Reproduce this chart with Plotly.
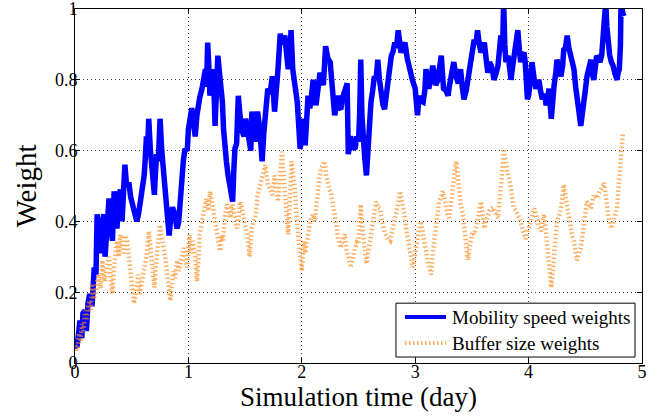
import plotly.graph_objects as go

# ---- data ----
speed_x = [0.00,0.018,0.03,0.044,0.06,0.07,0.088,0.10,0.115,0.13,0.15,0.17,0.185,0.195,0.21,0.22,0.24,0.255,0.265,0.28,
 0.30,0.315,0.33,0.345,0.36,0.37,0.385,0.40,0.415,0.43,0.44,0.455,0.475,0.49,0.50,0.52,0.545,0.56,0.57,0.59,
 0.61,0.62,0.63,0.64,0.65,0.665,0.68,0.70,0.71,0.72,0.735,0.75,0.765,0.78,0.80,0.815,0.83,0.845,0.86,0.88,
 0.90,0.915,0.93,0.94,0.955,0.97,0.99,1.00,1.015,1.03,1.045,1.06,1.075,1.085,1.10,1.12,1.135,1.15,1.16,1.17,
 1.18,1.19,1.205,1.22,1.235,1.25,1.26,1.28,1.30,1.31,1.32,1.335,1.35,1.37,1.39,1.40,1.41,1.425,1.44,1.455,
 1.47,1.49,1.505,1.52,1.54,1.55,1.56,1.575,1.59,1.60,1.61,1.63,1.65,1.665,1.68,1.70,1.72,1.74,1.76,1.775,
 1.79,1.81,1.83,1.85,1.865,1.88,1.895,1.905,1.92,1.94,1.96,1.975,1.985,2.00,2.01,2.03,2.045,2.055,2.07,2.08,
 2.10,2.115,2.125,2.145,2.16,2.175,2.19,2.21,2.23,2.25,2.265,2.275,2.29,2.305,2.32,2.335,2.345,2.36,2.38,2.40,
 2.41,2.42,2.43,2.45,2.47,2.485,2.50,2.51,2.52,2.53,2.54,2.555,2.57,2.585,2.60,2.61,2.625,2.64,2.655,2.67,
 2.685,2.70,2.715,2.73,2.75,2.77,2.79,2.805,2.82,2.835,2.85,2.865,2.875,2.89,2.91,2.93,2.95,2.975,3.00,3.02,
 3.035,3.05,3.07,3.085,3.095,3.11,3.12,3.135,3.155,3.17,3.18,3.20,3.23,3.24,3.25,3.27,3.29,3.30,3.315,3.33,
 3.34,3.36,3.38,3.39,3.40,3.415,3.43,3.45,3.465,3.48,3.49,3.505,3.52,3.535,3.55,3.565,3.58,3.595,3.61,3.625,
 3.64,3.655,3.67,3.685,3.695,3.715,3.73,3.745,3.755,3.77,3.78,3.79,3.80,3.82,3.835,3.845,3.86,3.88,3.895,3.905,
 3.92,3.93,3.945,3.96,3.97,3.99,4.00,4.02,4.03,4.05,4.065,4.08,4.09,4.105,4.12,4.14,4.155,4.17,4.18,4.20,
 4.21,4.225,4.24,4.25,4.27,4.285,4.30,4.31,4.325,4.34,4.355,4.37,4.385,4.40,4.415,4.425,4.44,4.46,4.475,4.49,
 4.50,4.515,4.53,4.55,4.56,4.575,4.59,4.60,4.615,4.63,4.645,4.655,4.665,4.68,4.69,4.70,4.715,4.73,4.745,4.76,
 4.78,4.79,4.80,4.81,4.815,4.83,4.84]
speed_y = [0.05,0.045,0.08,0.12,0.07,0.14,0.148,0.09,0.17,0.195,0.16,0.27,0.25,0.42,0.36,0.31,0.40,0.42,0.30,0.38,
 0.465,0.40,0.345,0.485,0.43,0.38,0.47,0.49,0.40,0.48,0.56,0.50,0.51,0.47,0.456,0.43,0.40,0.42,0.44,0.49,
 0.53,0.58,0.64,0.60,0.69,0.60,0.55,0.475,0.54,0.59,0.57,0.69,0.60,0.55,0.47,0.40,0.36,0.41,0.44,0.42,
 0.38,0.40,0.47,0.55,0.57,0.605,0.60,0.66,0.69,0.72,0.68,0.64,0.70,0.737,0.75,0.775,0.80,0.83,0.78,0.905,
 0.84,0.755,0.80,0.83,0.67,0.80,0.868,0.80,0.737,0.66,0.605,0.57,0.53,0.50,0.456,0.54,0.605,0.62,0.755,0.70,
 0.66,0.64,0.69,0.66,0.63,0.60,0.71,0.66,0.625,0.68,0.71,0.66,0.57,0.65,0.70,0.775,0.76,0.81,0.71,0.76,
 0.83,0.93,0.90,0.925,0.88,0.83,0.87,0.94,0.83,0.78,0.737,0.66,0.605,0.64,0.69,0.615,0.70,0.755,0.72,0.737,
 0.80,0.76,0.728,0.78,0.82,0.80,0.785,0.895,0.86,0.85,0.80,0.765,0.70,0.73,0.755,0.72,0.717,0.75,0.775,0.79,
 0.59,0.62,0.64,0.61,0.605,0.64,0.625,0.70,0.857,0.70,0.625,0.58,0.53,0.64,0.70,0.737,0.77,0.81,0.80,0.857,
 0.80,0.755,0.73,0.717,0.785,0.82,0.868,0.88,0.905,0.89,0.94,0.90,0.877,0.89,0.905,0.86,0.83,0.80,0.775,0.70,
 0.755,0.74,0.737,0.77,0.83,0.80,0.775,0.80,0.84,0.81,0.785,0.80,0.868,0.82,0.775,0.77,0.755,0.78,0.81,0.82,
 0.85,0.81,0.79,0.81,0.83,0.78,0.745,0.77,0.80,0.82,0.85,0.88,0.913,0.90,0.94,0.90,0.877,0.89,0.905,0.86,
 0.82,0.85,0.84,0.82,0.80,0.82,0.84,0.89,0.925,0.88,1.02,0.90,0.85,0.868,0.82,0.80,0.84,0.877,0.91,0.94,
 0.88,0.85,0.87,0.877,0.85,0.745,0.755,0.81,0.85,0.80,0.775,0.79,0.80,0.77,0.745,0.76,0.728,0.75,0.775,0.69,
 0.74,0.785,0.82,0.857,0.83,0.81,0.84,0.885,0.89,0.925,0.89,0.868,0.85,0.83,0.78,0.745,0.72,0.67,0.70,0.737,
 0.77,0.81,0.83,0.857,0.82,0.80,0.84,0.868,0.86,0.85,0.87,0.905,0.95,1.02,0.95,0.905,0.87,0.85,0.84,0.82,
 0.80,0.82,0.83,0.90,1.02,0.99,0.98]

buffer_x = [0.00,0.02,0.035,0.05,0.06,0.075,0.088,0.10,0.115,0.13,0.14,0.15,0.165,0.18,0.195,0.21,0.225,0.24,0.255,0.265,
 0.28,0.30,0.315,0.33,0.345,0.36,0.37,0.385,0.40,0.415,0.43,0.445,0.46,0.475,0.485,0.50,0.52,0.535,0.545,0.56,
 0.57,0.59,0.61,0.625,0.635,0.65,0.665,0.68,0.70,0.71,0.72,0.735,0.75,0.765,0.78,0.795,0.81,0.825,0.84,0.855,
 0.87,0.885,0.90,0.915,0.93,0.945,0.96,0.975,0.99,1.00,1.01,1.025,1.04,1.06,1.075,1.09,1.10,1.115,1.13,1.145,
 1.16,1.175,1.19,1.205,1.22,1.235,1.25,1.265,1.28,1.29,1.305,1.32,1.34,1.355,1.37,1.38,1.39,1.41,1.43,1.445,
 1.455,1.47,1.48,1.50,1.52,1.53,1.54,1.55,1.56,1.575,1.59,1.60,1.61,1.63,1.65,1.665,1.68,1.69,1.70,1.72,
 1.74,1.75,1.76,1.775,1.79,1.81,1.825,1.835,1.85,1.865,1.88,1.895,1.91,1.925,1.94,1.955,1.97,1.985,2.00,2.01,
 2.02,2.03,2.045,2.055,2.07,2.08,2.10,2.115,2.13,2.14,2.155,2.17,2.185,2.20,2.215,2.23,2.245,2.26,2.275,2.29,
 2.305,2.32,2.335,2.345,2.36,2.38,2.395,2.41,2.43,2.45,2.47,2.485,2.50,2.51,2.52,2.53,2.54,2.555,2.57,2.585,
 2.60,2.615,2.63,2.645,2.655,2.67,2.69,2.70,2.715,2.73,2.74,2.76,2.78,2.79,2.80,2.815,2.83,2.85,2.865,2.875,
 2.89,2.905,2.92,2.935,2.95,2.965,2.98,2.995,3.01,3.02,3.035,3.05,3.065,3.08,3.095,3.11,3.125,3.14,3.155,3.17,
 3.18,3.195,3.21,3.23,3.245,3.26,3.27,3.285,3.30,3.315,3.33,3.345,3.36,3.375,3.385,3.40,3.42,3.435,3.45,3.465,
 3.48,3.49,3.505,3.52,3.535,3.55,3.565,3.58,3.595,3.61,3.625,3.64,3.655,3.67,3.685,3.695,3.71,3.73,3.74,3.755,
 3.77,3.78,3.80,3.82,3.835,3.845,3.86,3.87,3.89,3.905,3.92,3.93,3.945,3.96,3.975,3.99,4.00,4.02,4.035,4.05,
 4.065,4.075,4.09,4.11,4.125,4.135,4.15,4.16,4.175,4.19,4.20,4.215,4.225,4.24,4.25,4.27,4.285,4.30,4.31,4.325,
 4.34,4.355,4.37,4.385,4.40,4.415,4.425,4.445,4.46,4.475,4.49,4.50,4.515,4.53,4.55,4.565,4.575,4.59,4.60,4.62,
 4.64,4.655,4.665,4.68,4.69,4.71,4.73,4.74,4.75,4.765,4.78,4.79,4.80,4.815,4.83]
buffer_y = [0.05,0.036,0.084,0.06,0.11,0.09,0.148,0.12,0.16,0.176,0.15,0.224,0.18,0.195,0.23,0.25,0.21,0.29,0.25,0.23,
 0.27,0.30,0.24,0.195,0.27,0.31,0.345,0.30,0.363,0.33,0.31,0.36,0.345,0.30,0.27,0.22,0.168,0.20,0.224,0.25,
 0.195,0.23,0.25,0.29,0.316,0.372,0.33,0.29,0.213,0.26,0.316,0.35,0.39,0.35,0.325,0.30,0.27,0.22,0.176,0.22,
 0.26,0.24,0.29,0.26,0.28,0.30,0.325,0.29,0.27,0.33,0.363,0.31,0.345,0.30,0.23,0.30,0.363,0.39,0.42,0.44,
 0.465,0.43,0.485,0.46,0.437,0.40,0.372,0.34,0.316,0.36,0.345,0.40,0.448,0.43,0.41,0.44,0.448,0.41,0.38,0.42,
 0.456,0.44,0.42,0.39,0.363,0.33,0.30,0.34,0.38,0.40,0.41,0.44,0.475,0.50,0.53,0.55,0.56,0.53,0.504,0.49,
 0.475,0.50,0.53,0.50,0.456,0.53,0.597,0.55,0.49,0.42,0.363,0.46,0.57,0.53,0.485,0.41,0.345,0.30,0.26,0.30,
 0.345,0.31,0.34,0.363,0.39,0.41,0.42,0.40,0.45,0.49,0.52,0.55,0.56,0.57,0.53,0.504,0.49,0.475,0.45,0.42,
 0.39,0.353,0.34,0.325,0.35,0.363,0.32,0.29,0.27,0.30,0.325,0.34,0.336,0.40,0.448,0.40,0.363,0.32,0.28,0.31,
 0.345,0.37,0.40,0.43,0.456,0.44,0.437,0.41,0.38,0.37,0.363,0.35,0.345,0.36,0.38,0.40,0.41,0.45,0.485,0.47,
 0.456,0.42,0.38,0.35,0.325,0.30,0.27,0.30,0.336,0.363,0.38,0.40,0.37,0.345,0.32,0.29,0.27,0.25,0.31,0.35,
 0.38,0.42,0.456,0.47,0.485,0.46,0.437,0.42,0.41,0.45,0.49,0.53,0.57,0.53,0.49,0.45,0.42,0.38,0.345,0.29,
 0.33,0.353,0.37,0.363,0.38,0.40,0.43,0.456,0.42,0.38,0.40,0.42,0.43,0.437,0.44,0.43,0.42,0.41,0.45,0.49,
 0.55,0.605,0.56,0.53,0.51,0.49,0.46,0.437,0.43,0.42,0.41,0.40,0.38,0.363,0.35,0.372,0.38,0.40,0.42,0.437,
 0.42,0.40,0.385,0.372,0.40,0.42,0.38,0.345,0.30,0.25,0.213,0.26,0.31,0.36,0.40,0.42,0.437,0.47,0.504,0.47,
 0.437,0.41,0.38,0.36,0.345,0.31,0.29,0.31,0.325,0.36,0.40,0.43,0.456,0.45,0.437,0.46,0.475,0.47,0.465,0.48,
 0.49,0.50,0.51,0.47,0.437,0.40,0.38,0.39,0.40,0.42,0.437,0.48,0.52,0.59,0.645]

x_ticks = [0, 1, 2, 3, 4, 5]
x_labels = ["0", "1", "2", "3", "4", "5"]
y_ticks = [0, 0.2, 0.4, 0.6, 0.8, 1]
y_labels = ["0", "0.2", "0.4", "0.6", "0.8", "1"]
series_names = ["Mobility speed weights", "Buffer size weights"]

FONT = "Times New Roman"
BLUE = "#0000FF"
ORANGE = "rgba(255,140,30,0.7)"
ORANGE_DASH = "1.5px,2.5px"

fig = go.Figure()
fig.add_trace(go.Scatter(
    x=speed_x, y=speed_y, mode="lines", name=series_names[0],
    line=dict(color=BLUE, width=5.5),
))
fig.add_trace(go.Scatter(
    x=buffer_x, y=buffer_y, mode="lines", name=series_names[1],
    line=dict(color=ORANGE, width=4.5, dash=ORANGE_DASH),
))

axis_common = dict(
    showline=True, linecolor="black", linewidth=1, mirror="ticks",
    ticks="inside", ticklen=5, tickcolor="black", tickwidth=1,
    showgrid=True, gridcolor="rgba(0,0,0,0.75)", gridwidth=1, griddash="1px,3px",
    zeroline=False, ticklabeloverflow="allow", automargin=False,
    tickfont=dict(family=FONT, size=18, color="black"),
)

fig.update_xaxes(
    range=[0, 5], tickvals=x_ticks, ticktext=x_labels, ticklabelstandoff=-8,
    title=dict(text="Simulation time (day)", font=dict(family=FONT, size=27, color="black"), standoff=5),
    **axis_common,
)
fig.update_yaxes(
    range=[0, 1], tickvals=y_ticks, ticktext=y_labels, ticklabelstandoff=-7,
    title=dict(text="Weight", font=dict(family=FONT, size=29, color="black"), standoff=9),
    **axis_common,
)

# ---- legend drawn as a boxed key (positions in paper coordinates) ----
shapes = [
    dict(type="rect", xref="paper", yref="paper", x0=0.5661, x1=0.9877, y0=0.0169, y1=0.169,
         line=dict(color="black", width=1), fillcolor="white", layer="above"),
    dict(type="line", xref="paper", yref="paper", x0=0.582, x1=0.6543, y0=0.1296, y1=0.1296,
         line=dict(color=BLUE, width=4), layer="above"),
    dict(type="line", xref="paper", yref="paper", x0=0.582, x1=0.6543, y0=0.0563, y1=0.0563,
         line=dict(color=ORANGE, width=4, dash=ORANGE_DASH), layer="above"),
]
annotations = [
    dict(xref="paper", yref="paper", x=0.6615, y=0.1296, xanchor="left", yanchor="middle",
         text=series_names[0], showarrow=False, font=dict(family=FONT, size=19, color="black")),
    dict(xref="paper", yref="paper", x=0.6615, y=0.0563, xanchor="left", yanchor="middle",
         text=series_names[1], showarrow=False, font=dict(family=FONT, size=19, color="black")),
]

fig.update_layout(
    width=667, height=420,
    margin=dict(l=75, r=25, t=9, b=57),
    paper_bgcolor="white", plot_bgcolor="white",
    font=dict(family=FONT, color="black", size=18),
    showlegend=False,
    shapes=shapes,
    annotations=annotations,
)

fig.write_html("out.html")
